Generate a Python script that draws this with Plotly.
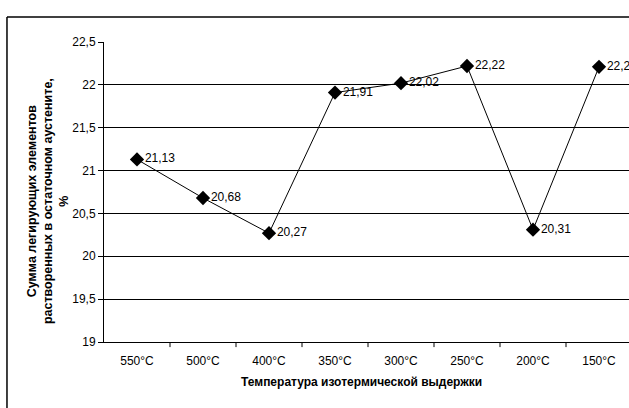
import plotly.graph_objects as go

categories = ["550°C", "500°C", "400°C", "350°C", "300°C", "250°C", "200°C", "150°C"]
values = [21.13, 20.68, 20.27, 21.91, 22.02, 22.22, 20.31, 22.21]
y_ticks = [19, 19.5, 20, 20.5, 21, 21.5, 22, 22.5]

FONT = "Liberation Sans, Arial, sans-serif"

fig = go.Figure()
fig.add_trace(go.Scatter(
    x=list(range(len(categories))),
    y=values,
    mode="lines+markers+text",
    line=dict(color="black", width=1),
    marker=dict(symbol="diamond", size=11, color="black"),
    text=[f"{v:.2f}".replace(".", ",") for v in values],
    textposition="middle right",
    textfont=dict(family=FONT, size=12, color="black"),
    cliponaxis=False,
    showlegend=False,
))

fig.update_layout(
    width=629, height=408,
    margin=dict(l=104, r=0, t=42, b=66, autoexpand=False),
    paper_bgcolor="white", plot_bgcolor="white",
    separators=", ",
    font=dict(family=FONT, size=12, color="black"),
    xaxis=dict(
        range=[-0.5, 7.5 - 3 / 66],
        tickmode="array",
        tickvals=list(range(len(categories))),
        ticktext=categories,
        showgrid=False,
        showline=True, linecolor="black", linewidth=1,
        ticks="", zeroline=False,
        ticklabelstandoff=8,
        automargin=False,
        tickfont=dict(family=FONT, size=12),
    ),
    yaxis=dict(
        range=[19, 22.5],
        tickmode="array",
        tickvals=y_ticks,
        ticktext=[str(t).replace(".", ",") if t != int(t) else str(int(t)) for t in y_ticks],
        showgrid=True, gridcolor="black", gridwidth=1,
        showline=True, linecolor="black", linewidth=1,
        ticks="outside", ticklen=5, tickcolor="black",
        zeroline=False,
        automargin=False,
        tickfont=dict(family=FONT, size=12),
    ),
)

# category boundary tick marks on x axis
for k in range(1, len(categories)):
    fig.add_shape(type="line", xref="x", yref="paper",
                  x0=k - 0.5, x1=k - 0.5, y0=0, y1=-0.017,
                  line=dict(color="black", width=1))

# outer chart border (left and top edges visible; the rest lies outside the crop)
fig.add_shape(type="line", xref="paper", yref="paper",
              x0=-0.1848, x1=-0.1848, y0=-0.5, y1=1.0833,
              line=dict(color="black", width=1.5), layer="below")
fig.add_shape(type="line", xref="paper", yref="paper",
              x0=-0.1848, x1=1.2, y0=1.0833, y1=1.0833,
              line=dict(color="black", width=1.5), layer="below")

fig.add_annotation(
    xref="paper", yref="paper", x=0.49, y=-0.133,
    xanchor="center", yanchor="middle", showarrow=False,
    text="<b>Температура изотермической выдержки</b>",
    font=dict(family=FONT, size=12, color="black"),
)
fig.add_annotation(
    xref="paper", yref="paper", x=-0.1057, y=0.468,
    xanchor="center", yanchor="middle", showarrow=False, textangle=-90,
    text="<b>Сумма легирующих элементов<br>растворенных в остаточном аустените,<br>%</b>",
    font=dict(family=FONT, size=12.5, color="black"),
)

fig.write_html(
    "out.html",
    config={"displayModeBar": False},
    post_script=(
        "document.documentElement.style.overflow='hidden';"
        "document.body.style.overflow='hidden';"
        "document.body.style.margin='0';"
    ),
)
